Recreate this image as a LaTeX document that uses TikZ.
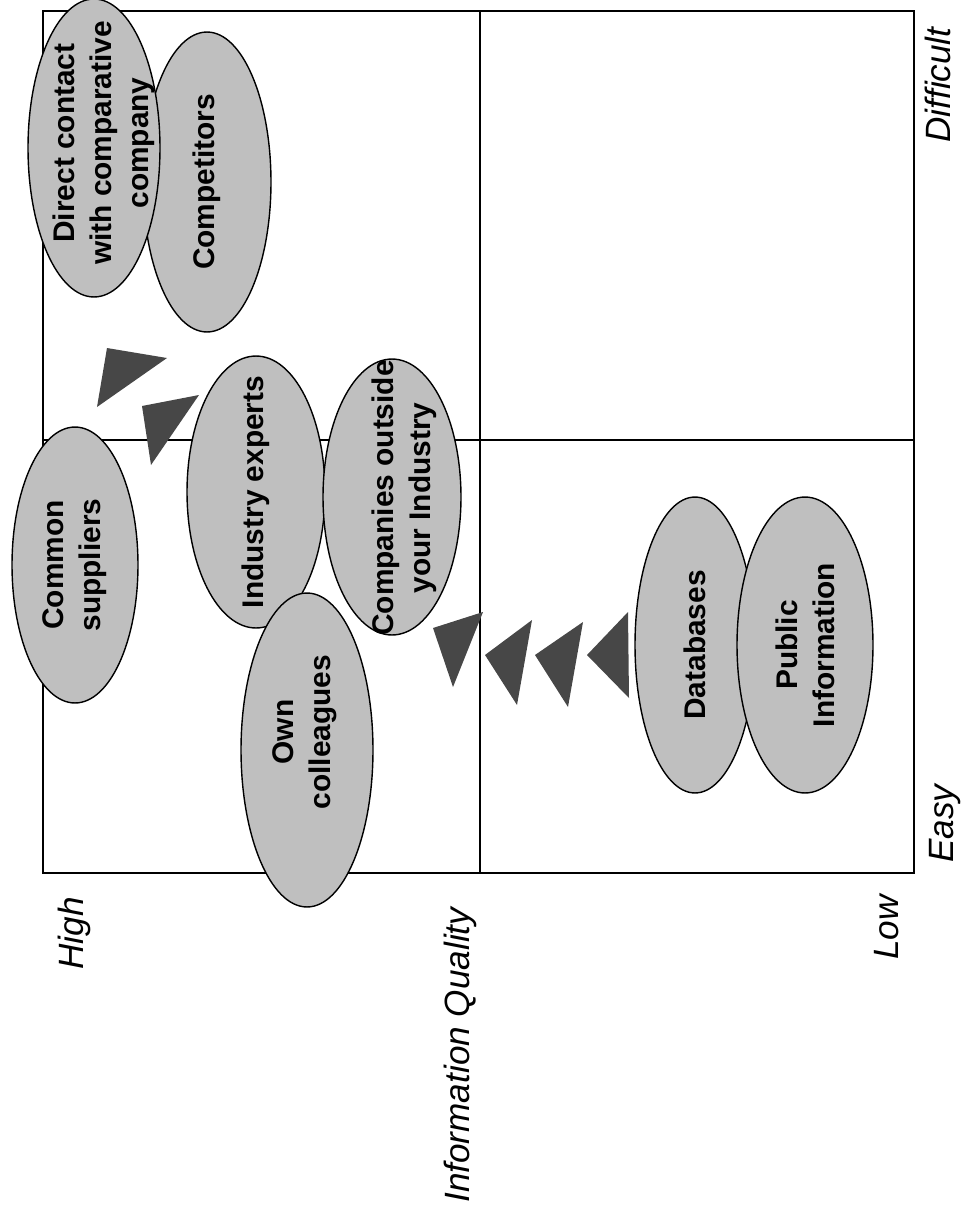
\documentclass[tikz,border=0pt]{standalone}
\usepackage{fontspec}
\setmainfont{Liberation Sans}
\usetikzlibrary{shapes.geometric}
\begin{document}
\begin{tikzpicture}[x=0.02cm, y=-0.02cm,
    source/.style={ellipse, draw, line width=0.8pt, fill=black!25},
    srctext/.style={rotate=90, align=center, inner sep=0pt, font=\bfseries\fontsize{17}{21}\selectfont},
    axislabel/.style={rotate=90, anchor=base west, inner sep=0pt, font=\itshape\fontsize{20}{24}\selectfont},
    marker/.style={fill=black!72}]
\useasboundingbox (0,0) rectangle (975,1217);

% quadrants
\draw[line width=0.7pt] (43,11) rectangle (914,873);
\draw[line width=0.7pt] (480,11) -- (480,873);
\draw[line width=0.7pt] (43,440) -- (914,440);

% sources
\node[source, minimum width=2.56cm, minimum height=6cm] (comp) at (207,182) {};
\node[srctext] (compT) at (comp) {Competitors};
\node[source, minimum width=2.64cm, minimum height=5.96cm] (direct) at (94,148) {};
\node[srctext] (directT) at (104,143) {Direct contact\\with comparative\\company};

\node[source, minimum width=2.52cm, minimum height=5.52cm] (supp) at (75,565) {};
\node[srctext] (suppT) at (supp) {Common\\suppliers};

\node[source, minimum width=2.76cm, minimum height=5.44cm] (expert) at (256,492) {};
\node[srctext] (expertT) at (expert) {Industry experts};
\node[source, minimum width=2.76cm, minimum height=5.52cm] (outside) at (392,497) {};
\node[srctext] (outsideT) at (404,498) {Companies outside\\your Industry};
\node[source, minimum width=2.64cm, minimum height=6.28cm] (colleag) at (307,750) {};
\node[srctext] (colleagT) at (305,732) {Own\\colleagues};

\node[source, minimum width=2.4cm, minimum height=5.92cm] (db) at (695,645) {};
\node[srctext] (dbT) at (db) {Databases};
\node[source, minimum width=2.72cm, minimum height=5.92cm] (public) at (805,645) {};
\node[srctext] (publicT) at (public) {Public\\Information};

% arrow heads
\fill[marker] (107,348) -- (167,358) -- (97,407) -- cycle;
\fill[marker] (142,406) -- (199,395) -- (151,465) -- cycle;
\fill[marker] (433,628) -- (483,612) -- (453,687) -- cycle;
\fill[marker] (485,655) -- (532,620) -- (517,705) -- cycle;
\fill[marker] (535,655) -- (583,622) -- (568,707) -- cycle;
\fill[marker] (587,655) -- (628,612) -- (629,698) -- cycle;

% axes
\node[axislabel] (high) at (83,970) {High};
\node[axislabel] (quality) at (469,1203) {Information Quality};
\node[axislabel] (low) at (898,960) {Low};
\node[axislabel] (easy) at (953,863) {Easy};
\node[axislabel] (difficult) at (950,143) {Difficult};
\end{tikzpicture}
\end{document}
